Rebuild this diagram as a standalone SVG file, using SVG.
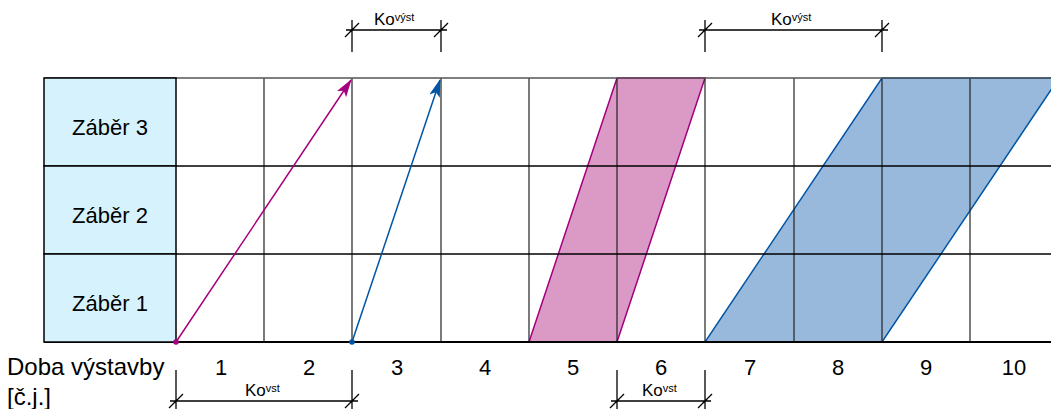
<svg xmlns="http://www.w3.org/2000/svg" width="1051" height="409" viewBox="0 0 1051 409">
<style>
.lbl{font-family:"Liberation Sans",Arial,sans-serif;fill:#000}
.cell{fill:#d6f3fd;stroke:#000;stroke-width:1.5}
.gv{stroke:#222;stroke-width:1.2}
.gh{stroke:#000;stroke-width:1.5}
.dim{stroke:#000;stroke-width:1.3;fill:none}
.ko{font-family:"Liberation Sans",Arial,sans-serif;font-size:17px;fill:#000}
.sup{font-size:11px}
.num{font-family:"Liberation Sans",Arial,sans-serif;font-size:22px;fill:#000;text-anchor:middle}
</style>
<defs>
<marker id="ahM" markerWidth="18" markerHeight="11" refX="17" refY="5.5" orient="auto" markerUnits="userSpaceOnUse"><path d="M0,0 L18,5.5 L0,11 L4,5.5 Z" fill="#a5007d"/></marker>
<marker id="ahB" markerWidth="18" markerHeight="11" refX="17" refY="5.5" orient="auto" markerUnits="userSpaceOnUse"><path d="M0,0 L18,5.5 L0,11 L4,5.5 Z" fill="#0055a5"/></marker>
</defs>
<rect width="1051" height="409" fill="#fff"/>
<g id="bands">
<polygon id="band-magenta" points="529,342 617,342 705,78 617,78" fill="#db9ac6" stroke="#a5007d" stroke-width="1.5"/>
<polygon id="band-blue" points="705,342 882,342 1059,78 882,78" fill="#99b9dc" stroke="#0055a5" stroke-width="1.5"/>
</g>
<g id="grid">
<line class="gv" x1="264" y1="78" x2="264" y2="342"/>
<line class="gv" x1="352" y1="78" x2="352" y2="342"/>
<line class="gv" x1="441" y1="78" x2="441" y2="342"/>
<line class="gv" x1="529" y1="78" x2="529" y2="342"/>
<line class="gv" x1="617" y1="78" x2="617" y2="342"/>
<line class="gv" x1="705" y1="78" x2="705" y2="342"/>
<line class="gv" x1="794" y1="78" x2="794" y2="342"/>
<line class="gv" x1="882" y1="78" x2="882" y2="342"/>
<line class="gv" x1="970" y1="78" x2="970" y2="342"/>
<line x1="44" y1="78" x2="1051" y2="78" stroke="#555" stroke-width="1.5"/>
<line class="gh" x1="44" y1="166" x2="1051" y2="166"/>
<line class="gh" x1="44" y1="254" x2="1051" y2="254"/>
<line x1="44" y1="342" x2="1051" y2="342" stroke="#000" stroke-width="2"/>
</g>
<g id="zaber3"><rect class="cell" x="44" y="78" width="132" height="88"/><text class="lbl" x="110" y="135" font-size="22" text-anchor="middle">Záběr 3</text></g>
<g id="zaber2"><rect class="cell" x="44" y="166" width="132" height="88"/><text class="lbl" x="110" y="223" font-size="22" text-anchor="middle">Záběr 2</text></g>
<g id="zaber1"><rect class="cell" x="44" y="254" width="132" height="88"/><text class="lbl" x="110" y="311" font-size="22" text-anchor="middle">Záběr 1</text></g>
<g id="connectors">
<line x1="176" y1="342" x2="351" y2="80" stroke="#a5007d" stroke-width="1.5" marker-end="url(#ahM)"/>
<circle cx="176" cy="342" r="2.8" fill="#a5007d"/>
<line x1="352" y1="342" x2="440" y2="80" stroke="#0055a5" stroke-width="1.5" marker-end="url(#ahB)"/>
<circle cx="352" cy="342" r="2.8" fill="#0055a5"/>
</g>
<g id="axis">
<text class="lbl" x="7" y="375" font-size="24">Doba výstavby</text>
<text class="lbl" x="7" y="405" font-size="24">[č.j.]</text>
<text class="num" x="221" y="375">1</text>
<text class="num" x="309" y="375">2</text>
<text class="num" x="397" y="375">3</text>
<text class="num" x="485" y="375">4</text>
<text class="num" x="573" y="375">5</text>
<text class="num" x="661" y="375">6</text>
<text class="num" x="750" y="375">7</text>
<text class="num" x="838" y="375">8</text>
<text class="num" x="926" y="375">9</text>
<text class="num" x="1014" y="375">10</text>
</g>
<g id="dim-top-1">
<path class="dim" d="M352,20 V52 M441,20 V52 M346,30 H447 M345,37 L359,23 M434,37 L448,23"/>
<text class="ko" x="374" y="25">Ko<tspan class="sup" dy="-4">výst</tspan></text>
</g>
<g id="dim-top-2">
<path class="dim" d="M705,20 V52 M882,20 V52 M699,30 H888 M698,37 L712,23 M875,37 L889,23"/>
<text class="ko" x="771" y="25">Ko<tspan class="sup" dy="-4">výst</tspan></text>
</g>
<g id="dim-bot-1">
<path class="dim" d="M176,370 V409 M352,370 V409 M170,401 H358 M169,408 L183,394 M345,408 L359,394"/>
<text class="ko" x="245" y="396">Ko<tspan class="sup" dy="-4">vst</tspan></text>
</g>
<g id="dim-bot-2">
<path class="dim" d="M617,370 V409 M705,370 V409 M611,401 H711 M610,408 L624,394 M698,408 L712,394"/>
<text class="ko" x="642" y="396">Ko<tspan class="sup" dy="-4">vst</tspan></text>
</g>
</svg>
